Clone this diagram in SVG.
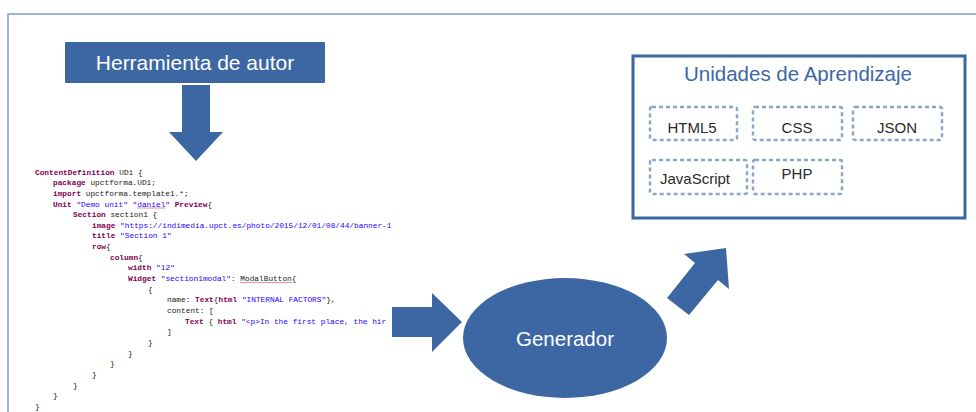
<svg xmlns="http://www.w3.org/2000/svg" width="976" height="412" viewBox="0 0 976 412">
<defs>
<style>
.frame{fill:none;stroke:#7f9fcc;stroke-width:1.5}
.blue{fill:#3d67a3}
.wt{fill:#ffffff;font-family:"Liberation Sans",Arial,sans-serif;text-anchor:middle}
.dash{fill:none;stroke:#8aa6cc;stroke-width:2.5;stroke-dasharray:4 3}
.lbl{fill:#2a2a2a;font-family:"Liberation Sans",Arial,sans-serif;font-size:15px;text-anchor:middle}
.code{font-family:"Liberation Mono","DejaVu Sans Mono",monospace;font-size:7.8px;fill:#222222;white-space:pre}
.k{fill:#7f0055;font-weight:bold}
.s{fill:#2a00ff}
.sp{stroke:#e0708a;stroke-width:0.8;fill:none}
</style>
</defs>
<rect width="976" height="412" fill="#ffffff"/>
<path class="frame" d="M8,412 V14 H976"/>

<g id="herramienta">
<rect class="blue" x="65" y="42" width="260" height="41" rx="1"/>
<text class="wt" x="195" y="70" font-size="21">Herramienta de autor</text>
</g>

<g id="codigo" class="code">
<text x="35" y="174.5"><tspan class="k">ContentDefinition</tspan> UD1 {</text>
<text x="53" y="185.2"><tspan class="k">package</tspan> upctforma.UD1;</text>
<text x="53" y="195.8"><tspan class="k">import</tspan> upctforma.template1.*;</text>
<text x="53" y="206.5"><tspan class="k">Unit</tspan> <tspan class="s">"Demo unit"</tspan> <tspan class="s">"daniel"</tspan> <tspan class="k">Preview</tspan>{</text>
<text x="73" y="217.1"><tspan class="k">Section</tspan> section1 {</text>
<text x="92" y="227.8"><tspan class="k">image</tspan> <tspan class="s">"https://indimedia.upct.es/photo/2015/12/01/08/44/banner-1</tspan></text>
<text x="92" y="238.4"><tspan class="k">title</tspan> <tspan class="s">"Section 1"</tspan></text>
<text x="92" y="249.1"><tspan class="k">row</tspan>{</text>
<text x="110" y="259.7"><tspan class="k">column</tspan>{</text>
<text x="128" y="270.4"><tspan class="k">width</tspan> <tspan class="s">"12"</tspan></text>
<text x="128" y="281"><tspan class="k">Widget</tspan> <tspan class="s">"section1modal"</tspan>: ModalButton{</text>
<text x="148" y="291.7">{</text>
<text x="167" y="302.3">name: <tspan class="k">Text</tspan>{<tspan class="k">html</tspan> <tspan class="s">"INTERNAL FACTORS"</tspan>},</text>
<text x="167" y="313">content: [</text>
<text x="185" y="323.6"><tspan class="k">Text</tspan> { <tspan class="k">html</tspan> <tspan class="s">"&lt;p&gt;In the first place, the hir</tspan></text>
<text x="167" y="334.3">]</text>
<text x="148" y="344.9">}</text>
<text x="128" y="355.6">}</text>
<text x="110" y="366.2">}</text>
<text x="92" y="376.9">}</text>
<text x="73" y="387.5">}</text>
<text x="53" y="398.2">}</text>
<text x="35" y="408.8">}</text>
<path class="sp" d="M137,208 H165"/>
<path class="sp" d="M240,282.5 H292"/>
</g>

<g id="generador">
<ellipse class="blue" cx="565" cy="338" rx="102" ry="60"/>
<text class="wt" x="565" y="346" font-size="20.5">Generador</text>
</g>

<g id="unidades">
<rect x="633" y="56" width="332" height="162" fill="none" stroke="#3d67a3" stroke-width="3"/>
<text x="798" y="81" font-family="'Liberation Sans',Arial,sans-serif" font-size="20.5" fill="#3d67a3" text-anchor="middle">Unidades de Aprendizaje</text>
<g id="html5"><rect class="dash" x="650" y="107" width="87" height="33" rx="2"/><text class="lbl" x="692" y="133">HTML5</text></g>
<g id="css"><rect class="dash" x="753" y="107" width="89" height="33" rx="2"/><text class="lbl" x="797" y="133">CSS</text></g>
<g id="json"><rect class="dash" x="853" y="107" width="89" height="33" rx="2"/><text class="lbl" x="897" y="133">JSON</text></g>
<g id="javascript"><rect class="dash" x="650" y="160" width="97" height="34" rx="2"/><text class="lbl" x="695" y="184">JavaScript</text></g>
<g id="php"><rect class="dash" x="753" y="160" width="89" height="34" rx="2"/><text class="lbl" x="797" y="179">PHP</text></g>
</g>

<g id="connectors" class="blue">
<polygon points="182,85 210,85 210,132 223,132 196,161 169,132 182,132"/>
<polygon points="392,307 432,307 432,293 462,322 432,352 432,337 392,337"/>
<polygon points="667,298 695,263 684,254 726,248 729,289 718,280 689,315"/>
</g>
</svg>
